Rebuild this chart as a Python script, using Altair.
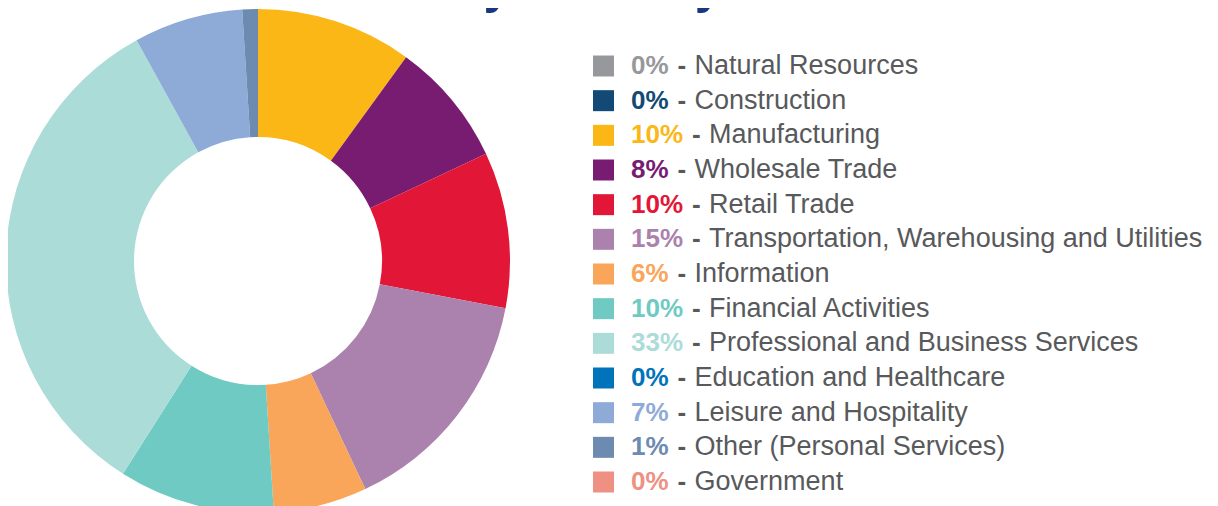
import altair as alt
import pandas as pd

categories = [
    "Natural Resources", "Construction", "Manufacturing", "Wholesale Trade",
    "Retail Trade", "Transportation, Warehousing and Utilities", "Information",
    "Financial Activities", "Professional and Business Services",
    "Education and Healthcare", "Leisure and Hospitality",
    "Other (Personal Services)", "Government",
]
shares = [0, 0, 10, 8, 10, 15, 6, 10, 33, 0, 7, 1, 0]
colors = [
    "#97989b", "#124a75", "#fbb715", "#781c72", "#e21737", "#ab81ad", "#f9a55a",
    "#6ecac3", "#acdcd8", "#0073bb", "#8eabd8", "#6d8ab0", "#ee9183",
]
title_text = "by Industry"

df = pd.DataFrame({
    "category": categories,
    "share": shares,
    "idx": list(range(len(categories))),
})
df["pct"] = df["share"].astype(str) + "%"

color_scale = alt.Scale(domain=categories, range=colors)
label_grey = "#58595b"

base = alt.Chart(df)

arcs = base.mark_arc(outerRadius=252, innerRadius=124, stroke=None).encode(
    theta=alt.Theta("share:Q", stack=True),
    order=alt.Order("idx:Q"),
    color=alt.Color("category:N", scale=color_scale, legend=None),
    x=alt.value(250),
    y=alt.value(253),
)

row_y = alt.Y("category:N", sort=categories,
              scale=alt.Scale(type="point", range=[58, 474], padding=0), axis=None)

squares = base.mark_square(size=441, opacity=1).encode(
    x=alt.value(595.5),
    y=row_y,
    color=alt.Color("category:N", scale=color_scale, legend=None),
)

pcts = base.mark_text(align="left", baseline="middle", font="Liberation Sans",
                      fontSize=26, fontWeight="bold").encode(
    x=alt.value(623),
    y=row_y,
    text="pct:N",
    color=alt.Color("category:N", scale=color_scale, legend=None),
)

with_x = base.transform_calculate(
    pw="26*(0.556*length(toString(datum.share)) + 0.889)"
).transform_calculate(
    xd="623 + datum.pw + 9",
    xl="623 + datum.pw + 26",
)

dashes = with_x.mark_text(align="left", baseline="middle", font="Liberation Sans",
                          fontSize=26, fontWeight="bold", color=label_grey).encode(
    x=alt.X("xd:Q", scale=None),
    y=row_y,
    text=alt.value("-"),
)

labels = with_x.mark_text(align="left", baseline="middle", font="Liberation Sans",
                          fontSize=27, color=label_grey).encode(
    x=alt.X("xl:Q", scale=None),
    y=row_y,
    text="category:N",
)

title = alt.Chart(pd.DataFrame({"t": [title_text]})).mark_text(
    align="left", baseline="alphabetic", font="Liberation Sans", fontSize=50,
    fontWeight="bold", color="#1a3683",
).encode(x=alt.value(445), y=alt.value(-5), text="t:N")

chart = alt.layer(arcs, squares, pcts, dashes, labels, title).properties(
    width=1202, height=498, autosize="none", padding=0,
).configure_view(stroke=None)

chart.save("out.html", embed_options={"renderer": "svg", "actions": False})
